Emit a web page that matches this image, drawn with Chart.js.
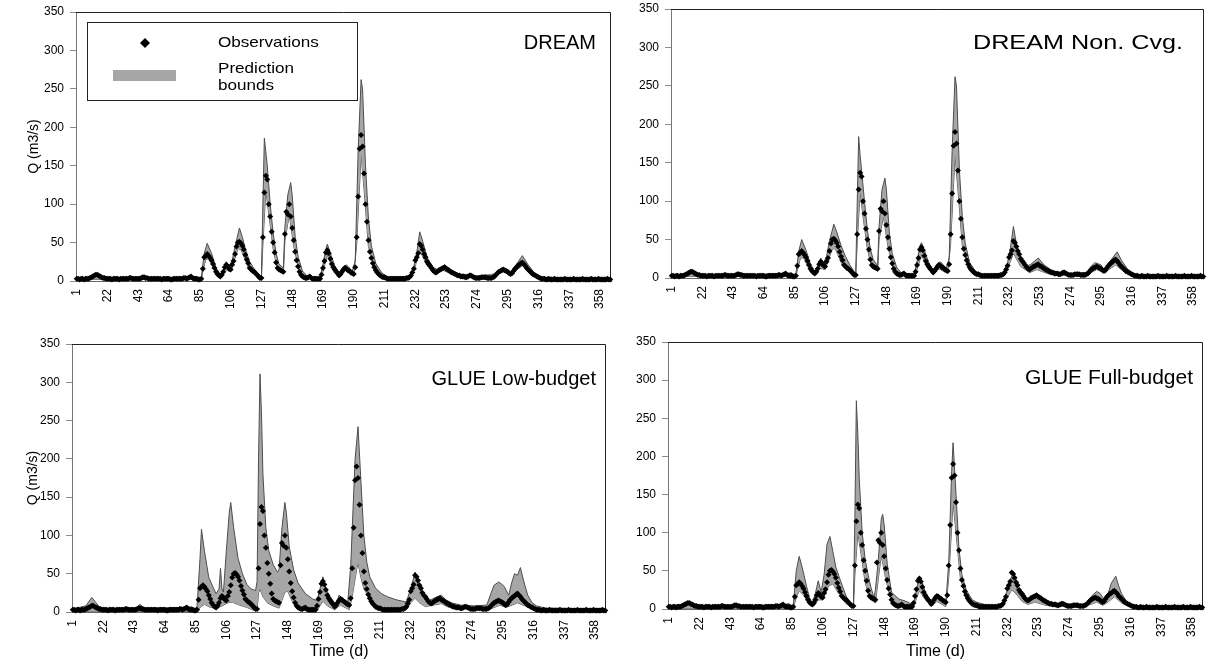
<!DOCTYPE html>
<html><head><meta charset="utf-8">
<script src="https://cdn.jsdelivr.net/npm/chart.js@4.4.1/dist/chart.umd.min.js"></script>
<style>
html,body{margin:0;padding:0;background:#fff;}
body{width:1208px;height:664px;position:relative;overflow:hidden;}
canvas{position:absolute;}
</style></head><body>
<canvas id="c0"></canvas><canvas id="c1"></canvas><canvas id="c2"></canvas><canvas id="c3"></canvas>
<script>
// ---------- DATA ----------
const tickDays = [1,22,43,64,85,106,127,148,169,190,211,232,253,274,295,316,337,358];
const yTicks = [0,50,100,150,200,250,300,350];
const panelNames = ['DREAM','DREAM Non. Cvg.','GLUE Low-budget','GLUE Full-budget'];
const legendLabels = ['Observations','Prediction','bounds'];

// observed discharge, day 1..365
const observations = [
3,3,2,3,3,2,3,3,3,4,
5,6,7,8,8,7,6,5,4,4,
3,3,3,3,2,3,3,3,3,2,
3,3,3,3,3,3,4,4,3,3,
3,3,3,3,4,5,5,4,4,3,
3,3,3,3,3,3,3,3,2,3,
3,3,3,3,2,2,3,3,3,3,
3,3,3,4,4,3,4,5,6,4,
3,3,3,2,2,3,16,31,33,35,
33,30,27,22,17,12,9,7,6,8,
12,18,21,19,16,15,21,26,35,45,
50,51,49,46,41,34,28,23,17,15,
13,12,10,8,6,4,4,57,115,137,
132,100,84,64,50,37,24,17,15,14,
13,12,61,90,87,100,84,69,53,38,
27,19,12,8,6,5,4,4,5,6,
4,3,3,3,3,3,3,8,17,26,
37,40,36,29,22,18,15,12,10,7,
9,12,15,17,16,14,13,11,10,9,
18,57,110,172,190,175,140,100,77,53,
38,30,23,18,14,11,9,7,6,5,
5,4,3,3,3,3,3,3,3,3,
3,3,3,3,3,4,4,5,7,11,
16,27,31,36,48,46,41,35,31,25,
22,20,17,14,12,11,12,14,15,16,
17,18,16,15,14,12,11,10,9,8,
7,7,6,6,6,5,5,6,7,7,
6,5,4,4,4,4,5,5,5,5,
4,4,4,4,5,6,8,10,12,13,
14,15,14,13,12,10,9,10,13,16,
18,20,21,23,24,22,20,17,15,13,
11,9,8,7,6,5,4,3,3,3,
2,2,3,2,2,2,3,2,2,2,
2,2,2,3,2,2,2,2,2,3,
2,2,2,2,2,3,2,2,2,2,
2,3,2,2,2,2,3,2,2,2,
2,2,3,2,2
];

// prediction bounds, [day, Q] vertices
const dreamUpper = [[1,4],[10,5],[14,9],[17,8],[21,4],[44,4],[47,6],[50,4],[76,5],[79,7],[85,4],[86,5],[88,36],[90,49],[93,36],[96,17],[99,9],[101,14],[103,25],[105,20],[107,26],[109,45],[112,69],[114,57],[116,42],[119,25],[122,16],[126,7],[127,6],[128,100],[129,186],[130,168],[131,150],[133,100],[135,62],[137,36],[139,22],[142,17],[143,70],[145,112],[147,128],[148,112],[150,58],[152,32],[155,13],[158,7],[167,4],[169,22],[171,42],[172,48],[174,36],[177,20],[180,11],[183,19],[185,21],[189,13],[191,26],[193,170],[195,262],[196,250],[198,150],[200,82],[202,46],[205,23],[209,11],[213,5],[228,6],[231,19],[233,37],[235,64],[237,52],[240,31],[244,18],[247,15],[252,21],[256,15],[262,9],[270,8],[276,5],[285,6],[288,12],[291,17],[295,15],[297,11],[300,19],[305,33],[309,21],[313,11],[318,5],[365,3]];
const dreamLower = [[1,2],[86,2],[87,12],[89,28],[91,29],[94,18],[98,5],[102,15],[106,12],[111,42],[113,41],[118,18],[126,3],[127,3],[128,48],[130,118],[132,88],[135,42],[138,14],[142,10],[143,52],[146,86],[149,46],[153,10],[157,3],[168,5],[172,34],[176,14],[180,6],[184,14],[190,7],[192,48],[195,165],[197,120],[200,45],[205,11],[212,3],[229,5],[231,13],[235,40],[240,20],[246,9],[251,14],[258,8],[266,4],[289,10],[292,12],[297,8],[305,20],[312,7],[320,2],[365,2]];

const nonCvgUpper = [[1,4],[10,5],[14,9],[17,8],[21,4],[44,4],[47,7],[50,4],[80,6],[83,7],[85,4],[86,5],[88,35],[90,50],[93,36],[96,18],[99,9],[101,16],[103,26],[105,20],[107,28],[109,48],[112,70],[114,60],[117,42],[120,28],[123,17],[126,8],[127,6],[128,95],[129,184],[130,160],[131,140],[133,100],[135,62],[137,38],[139,24],[142,16],[143,68],[145,115],[147,130],[148,115],[150,60],[152,32],[155,14],[158,7],[167,4],[169,22],[171,42],[172,46],[174,36],[177,20],[180,10],[183,19],[185,21],[189,13],[191,26],[193,165],[195,262],[196,250],[198,140],[200,80],[202,45],[205,20],[209,9],[213,4],[228,6],[231,20],[233,40],[235,67],[237,45],[240,27],[244,15],[247,18],[252,26],[256,17],[262,9],[268,7],[276,5],[285,7],[288,15],[291,20],[295,17],[297,11],[300,19],[306,34],[309,23],[313,12],[318,4],[365,3]];
const nonCvgLower = [[1,2],[86,2],[87,10],[89,25],[91,27],[94,16],[98,5],[102,13],[106,11],[111,38],[113,38],[118,16],[126,3],[127,3],[128,45],[130,112],[132,80],[135,38],[138,13],[142,9],[143,50],[146,80],[149,42],[153,9],[157,3],[168,5],[172,30],[176,13],[180,5],[184,12],[190,6],[192,45],[195,160],[197,115],[200,42],[205,10],[212,3],[229,5],[231,12],[235,32],[240,15],[246,7],[251,11],[258,6],[266,3],[289,8],[292,11],[297,7],[305,17],[312,6],[320,2],[365,2]];

const glueLowUpper = [[1,4],[10,8],[14,19],[17,12],[20,5],[44,5],[47,10],[50,5],[80,6],[82,7],[85,4],[86,8],[88,70],[89,108],[91,80],[94,45],[97,32],[99,24],[101,30],[102,57],[103,30],[104,26],[106,80],[108,130],[109,143],[111,110],[114,70],[117,50],[120,36],[123,30],[126,28],[127,40],[128,200],[129,311],[130,260],[131,180],[133,110],[135,80],[138,62],[141,52],[142,55],[144,110],[146,143],[147,130],[149,85],[152,55],[155,38],[160,24],[165,17],[168,15],[170,30],[172,46],[174,30],[177,20],[181,9],[183,22],[186,17],[189,13],[191,60],[194,200],[196,242],[198,170],[200,100],[202,65],[204,46],[208,31],[212,24],[216,20],[222,16],[229,13],[232,30],[235,52],[237,35],[240,22],[243,14],[247,17],[250,20],[253,22],[256,16],[260,12],[266,9],[275,8],[284,9],[287,25],[289,35],[292,39],[294,37],[296,33],[299,22],[301,38],[303,50],[305,48],[307,58],[309,42],[312,22],[315,12],[318,8],[324,5],[365,4]];
const glueLowLower = [[1,1],[86,1],[88,6],[91,10],[95,6],[100,5],[103,8],[107,12],[110,13],[115,9],[120,6],[125,2],[127,2],[128,25],[129,30],[131,20],[134,12],[138,8],[142,5],[144,15],[146,26],[148,27],[151,14],[155,5],[160,2],[168,2],[170,8],[172,14],[175,8],[180,3],[184,9],[190,3],[192,20],[195,55],[196,64],[198,45],[200,30],[204,18],[208,10],[213,5],[220,3],[229,3],[232,12],[235,18],[238,12],[242,7],[250,10],[253,11],[258,6],[265,4],[288,5],[293,9],[297,6],[300,8],[305,12],[310,8],[316,3],[320,1],[365,1]];

const glueFullUpper = [[1,4],[10,6],[14,10],[17,8],[21,4],[44,4],[47,6],[50,4],[80,6],[83,7],[85,4],[86,6],[88,50],[90,69],[92,55],[95,30],[97,15],[99,8],[101,20],[103,37],[105,22],[107,45],[109,85],[111,95],[113,75],[115,55],[118,38],[122,17],[125,6],[127,5],[128,120],[129,273],[130,230],[131,170],[133,100],[135,65],[137,45],[139,28],[141,15],[142,25],[144,65],[146,118],[147,124],[148,110],[150,60],[153,22],[158,13],[163,10],[168,5],[170,25],[172,42],[174,35],[177,16],[181,4],[184,18],[187,12],[190,7],[192,60],[194,180],[195,218],[197,150],[199,80],[201,45],[204,25],[208,12],[211,9],[218,5],[225,3],[229,8],[232,25],[235,43],[237,35],[240,20],[244,11],[247,10],[251,16],[253,18],[256,12],[260,8],[265,5],[286,5],[290,18],[293,23],[295,21],[298,13],[300,16],[303,34],[306,43],[308,30],[310,20],[313,11],[316,5],[320,2],[365,2]];
const glueFullLower = [[1,1],[86,1],[88,15],[90,24],[93,18],[97,6],[100,4],[103,12],[106,12],[110,30],[113,33],[117,20],[122,7],[126,2],[127,2],[128,45],[130,100],[132,75],[135,35],[138,14],[142,8],[144,40],[146,70],[149,40],[153,10],[158,4],[168,2],[170,14],[172,24],[175,15],[180,3],[184,10],[190,3],[192,40],[195,140],[197,100],[200,40],[205,10],[212,3],[229,3],[232,15],[235,25],[238,20],[242,10],[246,6],[251,9],[258,5],[266,3],[289,6],[293,9],[297,5],[300,8],[305,16],[310,8],[316,3],[320,1],[365,1]];

// ---------- LAYOUT ----------
const FONT = "'Liberation Sans', Arial, Helvetica, sans-serif";
const BAND = '#a6a6a6';
const panels = [
  {id:'c0', name:panelNames[0], upper:dreamUpper,   lower:dreamLower,   x:24,  y:0,   w:594, h:325, L:76,  T:12,  R:611,  B:281, yTitle:true,  xTitle:false, legend:true,  lx:596,  ly:42,  fs:20, sx:1.0},
  {id:'c1', name:panelNames[1], upper:nonCvgUpper,  lower:nonCvgLower,  x:630, y:0,   w:578, h:325, L:671, T:9,   R:1207, B:278, yTitle:false, xTitle:false, legend:false, lx:1183, ly:42,  fs:21, sx:1.2},
  {id:'c2', name:panelNames[2], upper:glueLowUpper, lower:glueLowLower, x:23,  y:334, w:595, h:330, L:72,  T:344, R:606,  B:612, yTitle:true,  xTitle:true,  legend:false, lx:596,  ly:378, fs:20, sx:1.0},
  {id:'c3', name:panelNames[3], upper:glueFullUpper,lower:glueFullLower,x:630, y:332, w:578, h:332, L:668, T:342, R:1203, B:609, yTitle:false, xTitle:true,  legend:false, lx:1193, ly:377, fs:21, sx:1.0}
];

function stretchedText(ctx, text, x, y, size, sx, align){
  ctx.save();
  ctx.font = size + 'px ' + FONT;
  ctx.fillStyle = '#000';
  ctx.textAlign = align;
  ctx.textBaseline = 'alphabetic';
  ctx.translate(x, y);
  ctx.scale(sx, 1);
  ctx.fillText(text, 0, 0);
  ctx.restore();
}

const framePlugin = {
  id: 'frame',
  beforeDatasetsDraw(chart, args, opts){
    const a = chart.chartArea, ctx = chart.ctx;
    ctx.save();
    ctx.strokeStyle = '#222';
    ctx.lineWidth = 1;
    ctx.beginPath();
    ctx.moveTo(a.left, a.top + 0.5);
    ctx.lineTo(a.right - 0.5, a.top + 0.5);
    ctx.lineTo(a.right - 0.5, a.bottom);
    ctx.stroke();
    ctx.restore();
  },
  afterDraw(chart, args, opts){
    const p = opts.panel, ctx = chart.ctx;
    stretchedText(ctx, p.name, p.lx - p.x, p.ly - p.y + 7, p.fs, p.sx, 'right');
    if (p.legend){
      const ox = p.x, oy = p.y;
      ctx.save();
      ctx.fillStyle = '#fff';
      ctx.fillRect(87 - ox, 22 - oy, 271, 78);
      ctx.strokeStyle = '#222';
      ctx.lineWidth = 1;
      ctx.strokeRect(87.5 - ox, 22.5 - oy, 270, 78);
      ctx.fillStyle = '#000';
      ctx.beginPath();
      const cx = 145 - ox, cy = 43 - oy;
      ctx.moveTo(cx, cy - 5); ctx.lineTo(cx + 5, cy); ctx.lineTo(cx, cy + 5); ctx.lineTo(cx - 5, cy);
      ctx.closePath(); ctx.fill();
      ctx.fillStyle = BAND;
      ctx.fillRect(113 - ox, 70 - oy, 63, 11);
      ctx.restore();
      stretchedText(ctx, legendLabels[0], 218 - ox, 47 - oy, 15, 1.14, 'left');
      stretchedText(ctx, legendLabels[1], 218 - ox, 73 - oy, 15, 1.14, 'left');
      stretchedText(ctx, legendLabels[2], 218 - ox, 90 - oy, 15, 1.14, 'left');
    }
  }
};

panels.forEach(p => {
  const cv = document.getElementById(p.id);
  cv.width = p.w; cv.height = p.h;
  cv.style.left = p.x + 'px'; cv.style.top = p.y + 'px';
  cv.style.width = p.w + 'px'; cv.style.height = p.h + 'px';
  const xH = p.y + p.h - p.B;
  const yW = p.L - p.x;
  const zeroPad = s => { s.paddingLeft = 0; s.paddingRight = 0; s.paddingTop = 0; s.paddingBottom = 0; };
  new Chart(cv.getContext('2d'), {
    type: 'line',
    data: {
      datasets: [
        {
          label: legendLabels[0],
          data: observations.map((v, i) => ({x: i + 1, y: v})),
          showLine: false,
          pointStyle: 'rectRot',
          pointRadius: 3,
          pointBackgroundColor: '#000',
          pointBorderColor: '#000',
          pointBorderWidth: 0,
          clip: false
        },
        {
          label: 'upper',
          data: p.upper.map(([d, q]) => ({x: d, y: q})),
          borderColor: '#4d4d4d',
          borderWidth: 1,
          backgroundColor: BAND,
          pointRadius: 0,
          tension: 0,
          fill: '+1'
        },
        {
          label: 'lower',
          data: p.lower.map(([d, q]) => ({x: d, y: q})),
          borderColor: '#4d4d4d',
          borderWidth: 1,
          pointRadius: 0,
          tension: 0,
          fill: false
        }
      ]
    },
    options: {
      responsive: false,
      animation: false,
      devicePixelRatio: 1,
      layout: {padding: {top: p.T - p.y, right: p.x + p.w - p.R, left: 0, bottom: 0}},
      plugins: {
        legend: {display: false},
        tooltip: {enabled: false},
        frame: {panel: p}
      },
      scales: {
        x: {
          type: 'linear',
          min: 0.5, max: 365.5,
          afterBuildTicks: s => { s.ticks = tickDays.map(v => ({value: v})); },
          afterFit: s => { s.height = xH; zeroPad(s); },
          ticks: {autoSkip: false, maxRotation: 90, minRotation: 90, padding: 8, color: '#000',
                  font: {family: FONT, size: 12}, callback: v => String(v)},
          grid: {display: false, drawTicks: false},
          border: {display: true, color: '#666', width: 1},
          title: {display: p.xTitle, text: 'Time (d)', color: '#000', font: {family: FONT, size: 16}, padding: {top: 0, bottom: 3}}
        },
        y: {
          type: 'linear',
          min: 0, max: 350,
          afterBuildTicks: s => { s.ticks = yTicks.map(v => ({value: v})); },
          afterFit: s => { s.width = yW; zeroPad(s); },
          ticks: {stepSize: 50, padding: 6, color: '#000', font: {family: FONT, size: 12}},
          grid: {drawOnChartArea: false, drawTicks: true, tickLength: 6, color: '#8c8c8c'},
          border: {display: true, color: '#777', width: 1},
          title: {display: p.yTitle, text: 'Q (m3/s)', color: '#000', font: {family: FONT, size: 14}, padding: {top: 2, bottom: 0}}
        }
      }
    },
    plugins: [framePlugin]
  });
});
</script>
</body></html>
